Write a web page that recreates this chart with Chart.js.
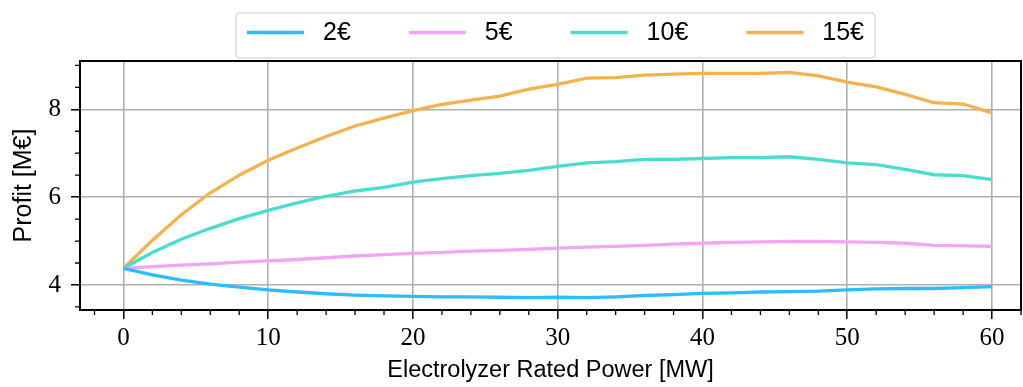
<!DOCTYPE html>
<html>
<head>
<meta charset="utf-8">
<script src="https://cdn.jsdelivr.net/npm/chart.js@4"></script>
<style>
  html, body { margin: 0; padding: 0; background: #ffffff; }
  #wrap { width: 1023px; height: 387px; position: relative; }
</style>
</head>
<body>
<div id="wrap"><canvas id="c" width="1023" height="387"></canvas></div>
<script>
// ---- data ----
const powerMW = [0, 2, 4, 6, 8, 10, 12, 14, 16, 18, 20, 22, 24, 26, 28, 30, 32, 34, 36, 38, 40, 42, 44, 46, 48, 50, 52, 54, 56, 58, 60];
const seriesLabels = ["2€", "5€", "10€", "15€"];
const profit2 = [4.38, 4.23, 4.11, 4.02, 3.95, 3.89, 3.84, 3.80, 3.77, 3.75, 3.74, 3.73, 3.73, 3.72, 3.71, 3.72, 3.71, 3.73, 3.76, 3.78, 3.81, 3.82, 3.84, 3.85, 3.86, 3.89, 3.91, 3.92, 3.92, 3.94, 3.96];
const profit5 = [4.38, 4.42, 4.45, 4.48, 4.52, 4.55, 4.58, 4.62, 4.66, 4.69, 4.72, 4.74, 4.77, 4.79, 4.81, 4.84, 4.86, 4.88, 4.90, 4.93, 4.95, 4.97, 4.98, 4.99, 4.99, 4.98, 4.97, 4.95, 4.90, 4.89, 4.88];
const profit10 = [4.38, 4.74, 5.04, 5.29, 5.51, 5.70, 5.87, 6.02, 6.14, 6.22, 6.34, 6.42, 6.49, 6.54, 6.61, 6.70, 6.78, 6.81, 6.86, 6.86, 6.88, 6.90, 6.90, 6.92, 6.86, 6.78, 6.74, 6.63, 6.51, 6.49, 6.40];
const profit15 = [4.38, 5.02, 5.60, 6.10, 6.50, 6.84, 7.12, 7.38, 7.62, 7.80, 7.97, 8.11, 8.21, 8.30, 8.46, 8.57, 8.71, 8.72, 8.78, 8.80, 8.82, 8.82, 8.82, 8.84, 8.76, 8.62, 8.51, 8.34, 8.15, 8.12, 7.92];
const xTickValues = [0, 10, 20, 30, 40, 50, 60];
const yTickValues = [4, 6, 8];
const xMinorValues = [-2, 2, 4, 6, 8, 12, 14, 16, 18, 22, 24, 26, 28, 32, 34, 36, 38, 42, 44, 46, 48, 52, 54, 56, 58, 62];
const yMinorValues = [3.5, 4.5, 5, 5.5, 6.5, 7, 7.5, 8.5, 9];

const colors = ["#2bbdfd", "#f2a5f2", "#48ddcf", "#f5b14c"];
const seriesValues = [profit2, profit5, profit10, profit15];

const sansFont = '"Liberation Sans", Arial, sans-serif';
const serifFont = '"Liberation Serif", "Times New Roman", serif';

const datasets = seriesValues.map((vals, i) => ({
  label: seriesLabels[i],
  data: powerMW.map((x, k) => ({ x: x, y: vals[k] })),
  borderColor: colors[i],
  backgroundColor: colors[i],
  borderWidth: 3.3,
  pointRadius: 0,
  tension: 0,
  fill: false
}));

// minor ticks + frame
const framePlugin = {
  id: 'frameMinor',
  afterDatasetsDraw(chart) {
    const { ctx, chartArea: a, scales } = chart;
    ctx.save();
    ctx.strokeStyle = '#000';
    ctx.lineWidth = 1.3;
    ctx.beginPath();
    xMinorValues.forEach(v => {
      const px = scales.x.getPixelForValue(v);
      if (px < a.left || px > a.right) return;
      ctx.moveTo(px, a.bottom);
      ctx.lineTo(px, a.bottom + 5);
    });
    yMinorValues.forEach(v => {
      const py = scales.y.getPixelForValue(v);
      if (py < a.top || py > a.bottom) return;
      ctx.moveTo(a.left, py);
      ctx.lineTo(a.left - 5, py);
    });
    ctx.stroke();
    ctx.lineWidth = 2;
    ctx.strokeRect(a.left, a.top, a.right - a.left, a.bottom - a.top);
    ctx.restore();
  }
};

// legend in a framed box above the plot
const legendPlugin = {
  id: 'boxLegend',
  afterDraw(chart) {
    const { ctx, chartArea: a } = chart;
    ctx.save();
    ctx.font = '25px ' + sansFont;
    const handle = 57, gapText = 19, gapItem = 58, pad = 11;
    const widths = chart.data.datasets.map(d => ctx.measureText(d.label).width);
    let total = pad * 2 + gapItem * (widths.length - 1);
    widths.forEach(w => total += handle + gapText + w);
    const cx = (a.left + a.right) / 2 + 5;
    const x0 = cx - total / 2;
    const top = 13, h = 45;
    const r = 4;
    ctx.beginPath();
    ctx.moveTo(x0 + r, top);
    ctx.lineTo(x0 + total - r, top);
    ctx.quadraticCurveTo(x0 + total, top, x0 + total, top + r);
    ctx.lineTo(x0 + total, top + h - r);
    ctx.quadraticCurveTo(x0 + total, top + h, x0 + total - r, top + h);
    ctx.lineTo(x0 + r, top + h);
    ctx.quadraticCurveTo(x0, top + h, x0, top + h - r);
    ctx.lineTo(x0, top + r);
    ctx.quadraticCurveTo(x0, top, x0 + r, top);
    ctx.closePath();
    ctx.fillStyle = 'rgba(255,255,255,0.85)';
    ctx.fill();
    ctx.strokeStyle = '#dcdcdc';
    ctx.lineWidth = 1.5;
    ctx.stroke();
    let x = x0 + pad;
    const ly = 32.5;
    chart.data.datasets.forEach((d, i) => {
      ctx.strokeStyle = d.borderColor;
      ctx.lineWidth = 3.3;
      ctx.beginPath();
      ctx.moveTo(x, ly);
      ctx.lineTo(x + handle, ly);
      ctx.stroke();
      ctx.fillStyle = '#000';
      ctx.textBaseline = 'middle';
      ctx.textAlign = 'left';
      ctx.fillText(d.label, x + handle + gapText, ly + 1);
      x += handle + gapText + widths[i] + gapItem;
    });
    ctx.restore();
  }
};

new Chart(document.getElementById('c'), {
  type: 'line',
  data: { datasets: datasets },
  options: {
    responsive: false,
    animation: false,
    devicePixelRatio: 1,
    layout: { padding: { top: 61, right: 2, left: 0, bottom: 0 } },
    plugins: {
      legend: { display: false },
      tooltip: { enabled: false },
      title: { display: false }
    },
    scales: {
      x: {
        type: 'linear',
        min: -3,
        max: 62,
        afterFit(scale) { scale.height = 77; },
        afterBuildTicks(scale) { scale.ticks = xTickValues.map(v => ({ value: v })); },
        border: { display: false },
        grid: { color: '#b0b0b0', lineWidth: 1.6, drawTicks: true, tickLength: 9, tickColor: '#000', tickWidth: 1.5 },
        ticks: {
          color: '#000',
          padding: 4,
          maxRotation: 0,
          autoSkip: false,
          font: { family: serifFont, size: 25 },
          callback: v => String(v)
        },
        title: {
          display: true,
          text: 'Electrolyzer Rated Power [MW]',
          color: '#000',
          font: { family: sansFont, size: 23.5 },
          padding: { top: 0, bottom: 2 }
        }
      },
      y: {
        type: 'linear',
        min: 3.43,
        max: 9.1,
        afterFit(scale) { scale.width = 80; },
        afterBuildTicks(scale) { scale.ticks = yTickValues.map(v => ({ value: v })); },
        border: { display: false },
        grid: { color: '#b0b0b0', lineWidth: 1.6, drawTicks: true, tickLength: 9, tickColor: '#000', tickWidth: 1.5 },
        ticks: {
          color: '#000',
          padding: 10,
          autoSkip: false,
          font: { family: serifFont, size: 25 },
          callback: v => String(v)
        },
        title: {
          display: true,
          text: 'Profit [M€]',
          color: '#000',
          font: { family: sansFont, size: 25 },
          padding: { top: 9, bottom: 0 }
        }
      }
    }
  },
  plugins: [framePlugin, legendPlugin]
});
</script>
</body>
</html>
